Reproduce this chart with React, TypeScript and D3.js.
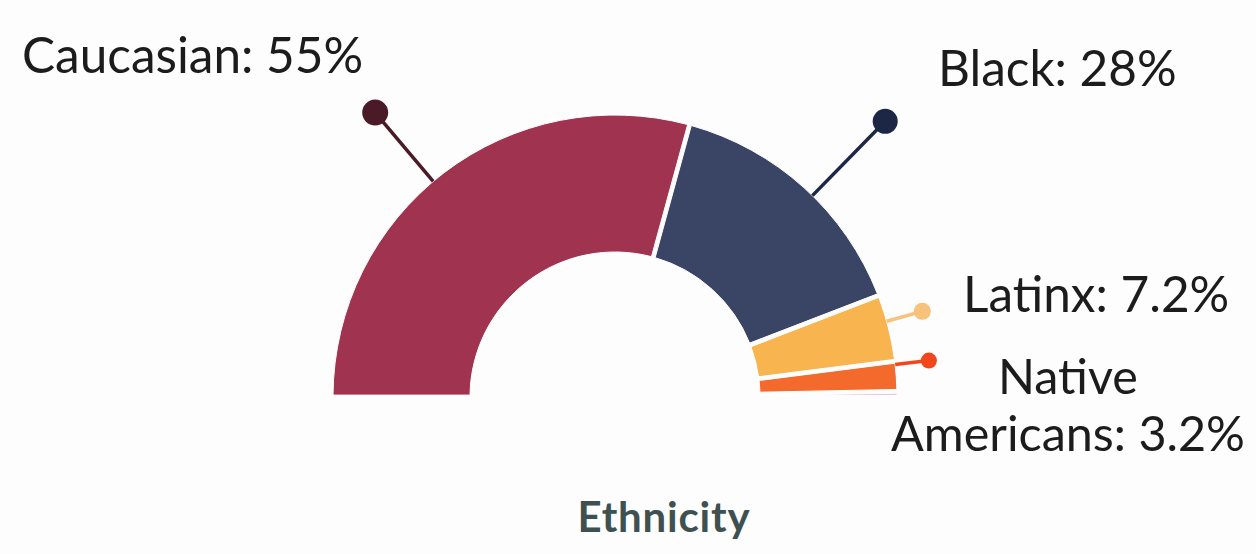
import React from "react";
import * as d3 from "d3";

const categories = ["Caucasian", "Black", "Latinx", "Native Americans", "Other"];
const values = [55, 28, 7.2, 3.2, 0.6];
const valueLabels = ["55%", "28%", "7.2%", "3.2%", ""];
const colors = ["#a0334f", "#3a4465", "#f7b44f", "#f46a2c", "#d9a6cc"];
const dotColors = ["#4b1a27", "#1c2745", "#f6c27c", "#f2461c", ""];
const title = "Ethnicity";

const W = 1256;
const H = 554;
const cx = 615;
const cy = 397;
const rOuter = 282;
const rInner = 145;

// layout for callouts (not data)
const dotRadius = [372, 386, 319, 316, 0];
const dotNudgeDeg = [2.8, -2.3, 1.4, 2.4, 0];
const dotSize = [13, 12.5, 8.5, 8, 0];

type LabelSpec = { text: string; x: number; y: number; anchor: string; size: number };
const labelLayout: LabelSpec[] = [
  { text: `${categories[0]}: ${valueLabels[0]}`, x: 22, y: 73, anchor: "start", size: 49.5 },
  { text: `${categories[1]}: ${valueLabels[1]}`, x: 938, y: 86, anchor: "start", size: 49.5 },
  { text: `${categories[2]}: ${valueLabels[2]}`, x: 963, y: 312, anchor: "start", size: 49.5 },
  { text: "Native", x: 1068, y: 394, anchor: "middle", size: 48.5 },
  { text: `Americans: ${valueLabels[3]}`, x: 1068, y: 451, anchor: "middle", size: 48.5 },
];

export default function App() {
  const data = categories.map((c, i) => ({ c, v: values[i], i }));
  const pie = d3
    .pie<{ c: string; v: number; i: number }>()
    .value((d) => d.v)
    .sort(null)
    .startAngle(-Math.PI / 2)
    .endAngle(Math.PI / 2);
  const arcs = pie(data);
  const arcGen = d3
    .arc<d3.PieArcDatum<{ c: string; v: number; i: number }>>()
    .innerRadius(rInner)
    .outerRadius(rOuter)
    .padAngle(0.012);

  const callouts = arcs
    .filter((a) => a.data.i < 4)
    .map((a) => {
      const i = a.data.i;
      const mid = (a.startAngle + a.endAngle) / 2 - (dotNudgeDeg[i] * Math.PI) / 180;
      const sx = Math.sin(mid);
      const sy = -Math.cos(mid);
      return {
        i,
        x1: sx * rOuter,
        y1: sy * rOuter,
        x2: sx * dotRadius[i],
        y2: sy * dotRadius[i],
      };
    });

  return (
    <svg
      width={W}
      height={H}
      style={{ position: "absolute", left: 0, top: 0, background: "#fff" }}
      fontFamily="Lato, 'Open Sans', sans-serif"
    >
      <rect width={W} height={H} fill="#fdfdfd" />
      <g transform={`translate(${cx},${cy})`}>
        {arcs.map((a) => (
          <path key={a.data.c} d={arcGen(a) || ""} fill={colors[a.data.i]} stroke="#fff" strokeWidth={1} />
        ))}
        {callouts.map((c) => (
          <g key={c.i}>
            <line x1={c.x1} y1={c.y1} x2={c.x2} y2={c.y2} stroke={dotColors[c.i]} strokeWidth={3.5} />
            <circle cx={c.x2} cy={c.y2} r={dotSize[c.i]} fill={dotColors[c.i]} />
          </g>
        ))}
      </g>
      {labelLayout.map((l, i) => (
        <text key={i} x={l.x} y={l.y} textAnchor={l.anchor} fontSize={l.size} fill="#1c1c1c">
          {l.text}
        </text>
      ))}
      <text x={664} y={532} textAnchor="middle" fontSize={42} fontWeight="bold" fill="#3e5050" letterSpacing={0.8}>
        {title}
      </text>
    </svg>
  );
}
